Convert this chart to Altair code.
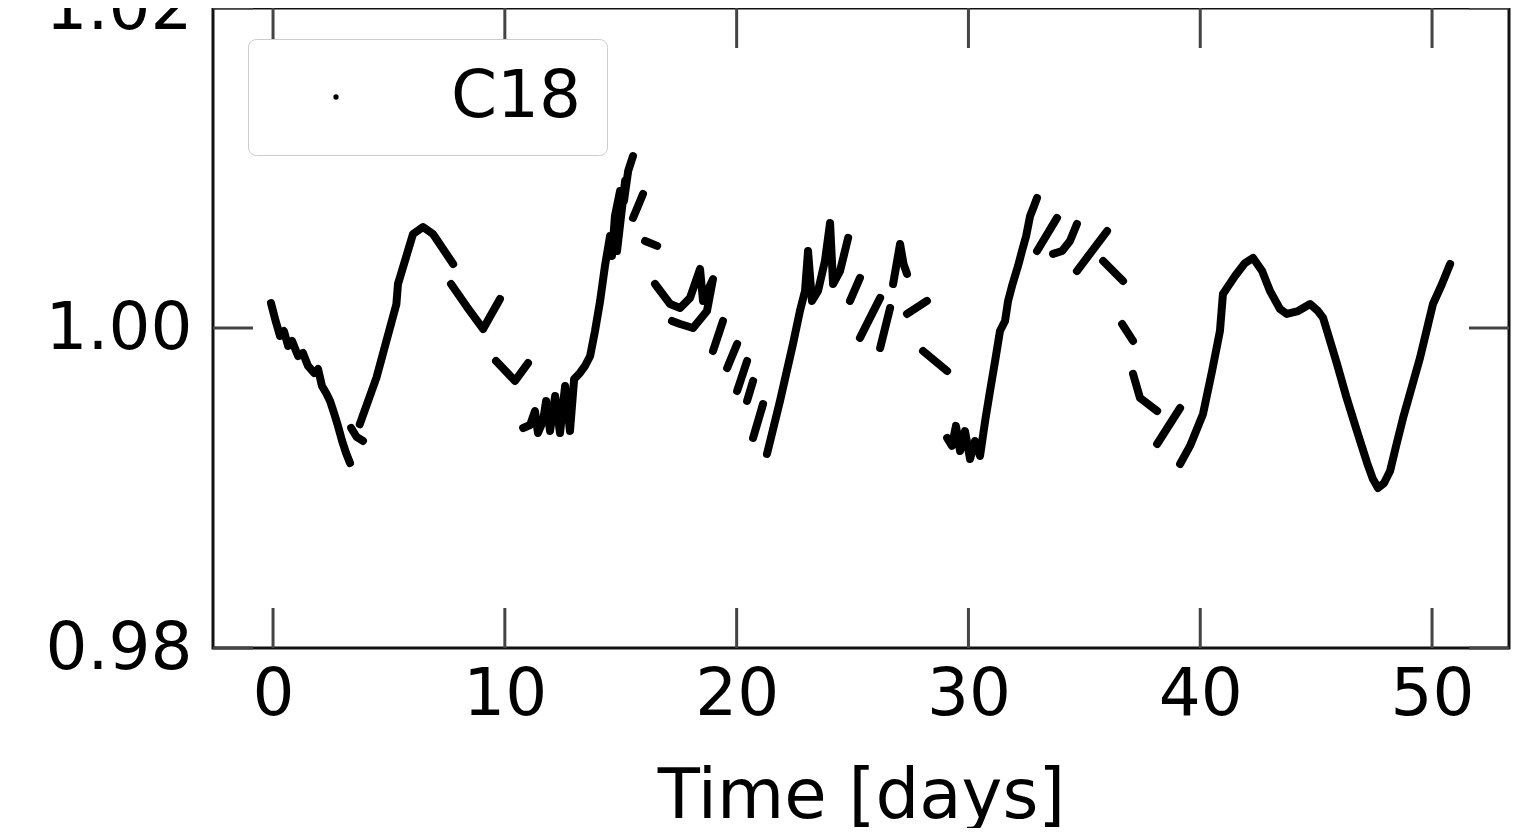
import altair as alt
import pandas as pd

# ---- light-curve data (time in days, normalised flux), one line per segment ----
SEG_LENGTHS = [19, 3, 8, 4, 3, 25, 2, 2, 2, 11, 2, 2, 2, 2, 2, 13, 2, 2, 2, 4, 2, 2, 21, 2, 4, 2, 2, 2, 3, 2, 34]

TIME = [
    -0.09, 0.09, 0.30, 0.47, 0.65, 0.82, 1.08, 1.29, 1.51, 1.77, 1.94, 2.11, 2.29, 2.46, 2.63, 2.80, 2.98, 3.15, 3.32,
    3.37, 3.60, 3.88,
    3.74, 4.46, 5.32, 5.39, 6.04, 6.47, 6.90, 7.77,
    7.68, 8.37, 9.06, 9.79,
    9.62, 10.44, 11.00,
    10.79, 11.09, 11.30, 11.43, 11.65, 11.78, 11.95, 12.17, 12.38, 12.60, 12.81, 12.99, 13.24, 13.46, 13.68, 13.89,
    14.11, 14.32, 14.54, 14.62, 14.75, 14.97, 15.14, 15.32, 15.53,
    14.84, 15.19,
    15.53, 15.96,
    16.05, 16.57,
    16.48, 17.13, 17.56, 17.99, 18.42, 18.55, 18.98, 18.72, 18.12, 17.56, 17.21,
    18.98, 19.41,
    19.59, 20.02,
    20.02, 20.45,
    20.45, 20.71,
    20.71, 21.14,
    21.31, 21.87, 22.43, 22.73, 22.95, 23.08, 23.25, 23.51, 23.81, 24.03, 24.16, 24.46, 24.81,
    24.89, 25.32,
    25.32, 26.19,
    26.19, 26.62,
    26.75, 27.05, 27.20, 27.35,
    27.35, 28.21,
    28.04, 29.08,
    29.08, 29.29, 29.46, 29.64, 29.85, 30.07, 30.28, 30.50, 30.72, 30.93, 31.15, 31.36, 31.58, 31.71, 31.88,
    32.14, 32.31, 32.49, 32.66, 32.83, 32.96,
    32.96, 33.82,
    33.65, 34.04, 34.38, 34.68,
    34.68, 35.98,
    35.81, 36.67,
    36.63, 37.10,
    37.10, 37.40, 38.14,
    38.14, 39.13,
    39.13, 39.56, 40.12, 40.51, 40.85, 40.98, 41.50, 41.93, 42.28, 42.67, 43.01, 43.44, 43.74, 44.22, 44.74,
    45.08, 45.30, 45.60, 45.90, 46.33, 46.76, 47.20, 47.45, 47.67, 47.93, 48.19, 48.45, 48.75, 49.14, 49.48,
    49.78, 50.04, 50.43, 50.78,
]

FLUX = [
    1.00156, 1.00056, 0.99950, 0.99981, 0.99888, 0.99919, 0.99825, 0.99844, 0.99763, 0.99719, 0.99744, 0.99638,
    0.99594, 0.99544, 0.99469, 0.99388, 0.99294, 0.99219, 0.99156,
    0.99375, 0.99320, 0.99294,
    0.99398, 0.99689, 1.00148, 1.00275, 1.00588, 1.00631, 1.00588, 1.00400,
    1.00275, 1.00131, 0.99994, 1.00181,
    0.99794, 0.99669, 0.99781,
    0.99375, 0.99394, 0.99481, 0.99344, 0.99419, 0.99544, 0.99356, 0.99575, 0.99344, 0.99638, 0.99356, 0.99681,
    0.99719, 0.99763, 0.99825, 0.99981, 1.00169, 1.00388, 1.00575, 1.00450, 1.00700, 1.00856, 1.00794, 1.00981,
    1.01075,
    1.00481, 1.00920,
    1.00688, 1.00838,
    1.00544, 1.00513,
    1.00275, 1.00150, 1.00125, 1.00188, 1.00369, 1.00169, 1.00306, 1.00106, 1.00000, 1.00025, 1.00044,
    0.99856, 1.00044,
    0.99750, 0.99900,
    0.99606, 0.99794,
    0.99544, 0.99669,
    0.99313, 0.99525,
    0.99213, 0.99544, 0.99900, 1.00106, 1.00231, 1.00481, 1.00169, 1.00231, 1.00419, 1.00656, 1.00275, 1.00356,
    1.00563,
    1.00169, 1.00313,
    0.99938, 1.00188,
    0.99875, 1.00125,
    1.00275, 1.00525, 1.00400, 1.00338,
    1.00088, 1.00169,
    0.99856, 0.99731,
    0.99313, 0.99263, 0.99388, 0.99231, 0.99356, 0.99181, 0.99294, 0.99200, 0.99419, 0.99606, 0.99794, 0.99981,
    1.00044, 1.00169, 1.00263, 1.00388, 1.00481, 1.00575, 1.00700, 1.00763, 1.00813,
    1.00481, 1.00688,
    1.00463, 1.00481, 1.00544, 1.00650,
    1.00356, 1.00606,
    1.00419, 1.00294,
    1.00025, 0.99919,
    0.99713, 0.99563, 0.99481,
    0.99275, 0.99500,
    0.99150, 0.99263, 0.99463, 0.99731, 0.99981, 1.00213, 1.00325, 1.00406, 1.00438, 1.00356, 1.00231, 1.00119,
    1.00088, 1.00106, 1.00150, 1.00106, 1.00063, 0.99919, 0.99775, 0.99556, 0.99356, 0.99156, 0.99056, 0.99000,
    0.99031, 0.99106, 0.99263, 0.99438, 0.99638, 0.99813, 0.99994, 1.00150, 1.00275, 1.00400,
]

SERIES_NAME = "C18"
X_TICKS = [0, 10, 20, 30, 40, 50]
Y_TICKS = [0.98, 1.00, 1.02]
X_DOMAIN = [-2.59, 53.32]
Y_DOMAIN = [0.98, 1.02]

seg_ids = []
for i, n in enumerate(SEG_LENGTHS):
    seg_ids += [i] * n

df = pd.DataFrame({
    "t": TIME,
    "flux": FLUX,
    "seg": seg_ids,
    "idx": list(range(len(TIME))),
    "series": [SERIES_NAME] * len(TIME),
})

W, H = 1296, 640
FONT = "DejaVu Sans"

xscale = alt.Scale(domain=X_DOMAIN, nice=False, zero=False)
yscale = alt.Scale(domain=Y_DOMAIN, nice=False, zero=False)

x_axis = alt.Axis(values=X_TICKS, title="Time [days]", ticks=False, tickSize=0, domain=False, grid=False,
                  labelFontSize=66, labelFont=FONT, labelColor="black", labelPadding=14,
                  labelFlush=False, labelOverlap=False,
                  titleFontSize=69, titleFont=FONT, titleFontWeight="normal", titleColor="black",
                  titlePadding=35)
y_axis = alt.Axis(values=Y_TICKS, title=None, format=".2f", ticks=False, tickSize=0, domain=False, grid=False,
                  labelFontSize=66, labelFont=FONT, labelColor="black", labelPadding=21,
                  labelFlush=False, labelOverlap=False)

lines = alt.Chart(df).mark_line(color="black", strokeWidth=8, strokeCap="round", strokeJoin="round").encode(
    x=alt.X("t:Q", scale=xscale, axis=x_axis),
    y=alt.Y("flux:Q", scale=yscale, axis=y_axis),
    detail="seg:N",
    order=alt.Order("idx:Q"),
)

dots = alt.Chart(df).mark_circle(size=28, opacity=1).encode(
    x=alt.X("t:Q", scale=xscale),
    y=alt.Y("flux:Q", scale=yscale),
    color=alt.Color("series:N", scale=alt.Scale(range=["black"]),
                    legend=alt.Legend(title=None, orient="none", legendX=35, legendY=31,
                                      symbolType="circle", symbolSize=28, symbolOffset=30,
                                      labelOffset=82, labelFontSize=66, labelFont=FONT,
                                      labelColor="black", padding=25, strokeColor="#cccccc",
                                      fillColor="white", cornerRadius=8)),
)

xt = pd.DataFrame({"v": X_TICKS})
yt = pd.DataFrame({"v": Y_TICKS})
TICK = dict(color="#444444", strokeWidth=3)

xb = alt.Chart(xt).mark_rule(**TICK).encode(x=alt.X("v:Q", scale=xscale), y=alt.value(H - 40), y2=alt.value(H))
xtop = alt.Chart(xt).mark_rule(**TICK).encode(x=alt.X("v:Q", scale=xscale), y=alt.value(0), y2=alt.value(40))
yl = alt.Chart(yt).mark_rule(**TICK).encode(y=alt.Y("v:Q", scale=yscale), x=alt.value(0), x2=alt.value(40))
yr = alt.Chart(yt).mark_rule(**TICK).encode(y=alt.Y("v:Q", scale=yscale), x=alt.value(W - 40), x2=alt.value(W))

chart = alt.layer(xb, xtop, yl, yr, lines, dots).properties(
    width=W, height=H,
    background="white",
    autosize=alt.AutoSizeParams(type="none"),
    padding={"left": 205, "top": 0, "right": 15, "bottom": 180},
).configure_view(stroke="#111111", strokeWidth=3)

chart.save("out.html", embed_options={"renderer": "svg", "actions": False})
